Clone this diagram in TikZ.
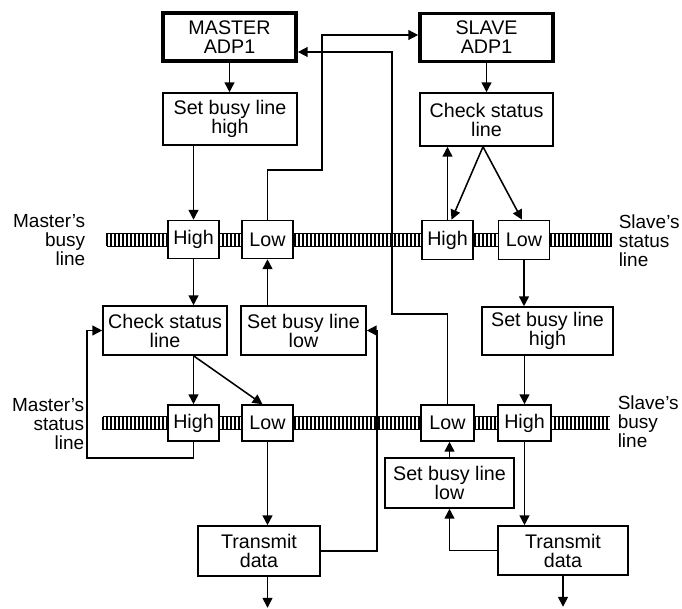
\documentclass[tikz,border=0pt]{standalone}
\usepackage{fontspec}
\setmainfont{Liberation Sans}
\usetikzlibrary{arrows.meta,calc,positioning}

\begin{document}
\begin{tikzpicture}[x=0.025cm,y=-0.025cm,line width=1.1pt,
  >={Triangle[length=7pt,width=7pt]},
  box/.style={draw,fill=white,align=center,inner sep=0pt,font=\fontsize{14}{13.5}\selectfont},
  adp/.style={box,line width=2.6pt,minimum width=3.325cm,minimum height=1.2cm},
  lvl/.style={box,minimum width=1.275cm,minimum height=0.95cm},
  tag/.style={inner sep=0pt,font=\fontsize{13.5}{13.5}\selectfont}]
  \useasboundingbox (0,0) rectangle (682,609);

  % the two bus rails
  \draw[line width=0.6pt] (107,233.5) -- (612,233.5) (107,246.5) -- (612,246.5);
  \foreach \x in {107,111,...,611} \draw[line width=1.5pt] (\x,233.5) -- (\x,246.5);
  \draw[line width=0.6pt] (103,416.5) -- (610,416.5) (103,429.5) -- (610,429.5);
  \foreach \x in {103,107,...,609} \draw[line width=1.5pt] (\x,416.5) -- (\x,429.5);

  % rail labels
  \node[tag,align=right,anchor=east] (mbusy) at (86,240) {Master’s\\busy\\line};
  \node[tag,align=left,anchor=west] (sstat) at (618,241) {Slave’s\\status\\line};
  \node[tag,align=right,anchor=east] (mstat) at (85,424) {Master’s\\status\\line};
  \node[tag,align=left,anchor=west] (sbusy) at (617,422) {Slave’s\\busy\\line};

  % processors
  \node[adp] (madp) at (229.5,37) {MASTER\\ADP1};
  \node[adp] (sadp) at (486.5,37.5) {SLAVE\\ADP1};

  % steps
  \node[box,minimum width=3.35cm,minimum height=1.3cm] (mhigh) at (230,119) {Set busy line\\high};
  \node[box,minimum width=3.325cm,minimum height=1.325cm] (scheck) at (486.5,119.5) {Check status\\line};
  \node[box,minimum width=3.1cm,minimum height=1.225cm] (mcheck) at (165,330.5) {Check status\\line};
  \node[box,minimum width=3.125cm,minimum height=1.225cm] (mlow) at (303.5,330.5) {Set busy line\\low};
  \node[box,minimum width=3.275cm,minimum height=1.2cm] (shigh) at (547.5,331) {Set busy line\\high};
  \node[box,minimum width=3.225cm,minimum height=1.25cm] (slow) at (449.5,483) {Set busy line\\low};
  \node[box,minimum width=3.05cm,minimum height=1.25cm] (mtx) at (259,551) {Transmit\\data};
  \node[box,minimum width=3.25cm,minimum height=1.225cm] (stx) at (563,550.5) {Transmit\\data};

  % line levels
  \node[lvl] (mbH) at (193.5,239.5) {High};
  \node[lvl] (mbL) at (267.5,239.5) {Low};
  \node[lvl,minimum height=0.975cm] (ssH) at (447.5,240) {High};
  \node[lvl,minimum height=0.975cm] (ssL) at (524,240) {Low};
  \node[lvl,minimum height=0.9cm] (msH) at (193.5,423) {High};
  \node[lvl,minimum height=0.9cm] (msL) at (267.5,423) {Low};
  \node[lvl,minimum height=0.9cm,minimum width=1.325cm] (sbL) at (447.5,423) {Low};
  \node[lvl,minimum height=0.9cm,minimum width=1.325cm] (sbH) at (524.5,423) {High};

  \coordinate (mjog) at (322,35);
  \coordinate (sjog) at (392,52);
  \coordinate (mfork) at (msH.north |- mcheck.south);
  \coordinate (sfork) at ($(scheck.south)+(-3.5,0)$);

  % master side
  \draw[->] (madp.south) -- (madp.south |- mhigh.north);
  \draw[->] (mbH.north |- mhigh.south) -- (mbH.north);
  \draw[->] (mbH.south) -- (mbH.south |- mcheck.north);
  \draw[->] (mfork) -- (msH.north);
  \draw[->] (mfork) -- ($(msL.north)+(-5,0)$);
  \draw[->] (msH.south) -- ++(0,16) -| ($(mcheck.west)+(-15,0)$) -- (mcheck.west);
  \draw[->] (msL.south) -- (msL.south |- mtx.north);
  \draw[->] (mtx.south -| msL.south) -- ++(0,31);
  \draw[->] (mtx.east) -| ($(mlow.east)+(10,0)$) -- (mlow.east);
  \draw[->] (mbL.south |- mlow.north) -- (mbL.south);
  \draw[->] (mbL.north) -- (mbL.north |- 0,170) -| (mjog) -- (sadp.west |- mjog);

  % slave side
  \draw[->] (sadp.south) -- (sadp.south |- scheck.north);
  \draw[->] (ssH.north) -- (ssH.north |- scheck.south);
  \draw[->] (sfork) -- ($(ssH.north)+(4,0)$);
  \draw[->] (sfork) -- ($(ssL.north)+(-2,0)$);
  \draw[->] (ssL.south) -- (ssL.south |- shigh.north);
  \draw[->] (sbH.north |- shigh.south) -- (sbH.north);
  \draw[->] (sbH.south) -- (sbH.south |- stx.north);
  \draw[->] (stx.south) -- ++(0,31);
  \draw[->] (stx.west) -| (slow.south);
  \draw[->] (slow.north) -- (slow.north |- sbL.south);
  \draw[->] (sbL.north) -- (sbL.north |- 0,314) -| (sjog) -- (madp.east |- sjog);
\end{tikzpicture}
\end{document}
